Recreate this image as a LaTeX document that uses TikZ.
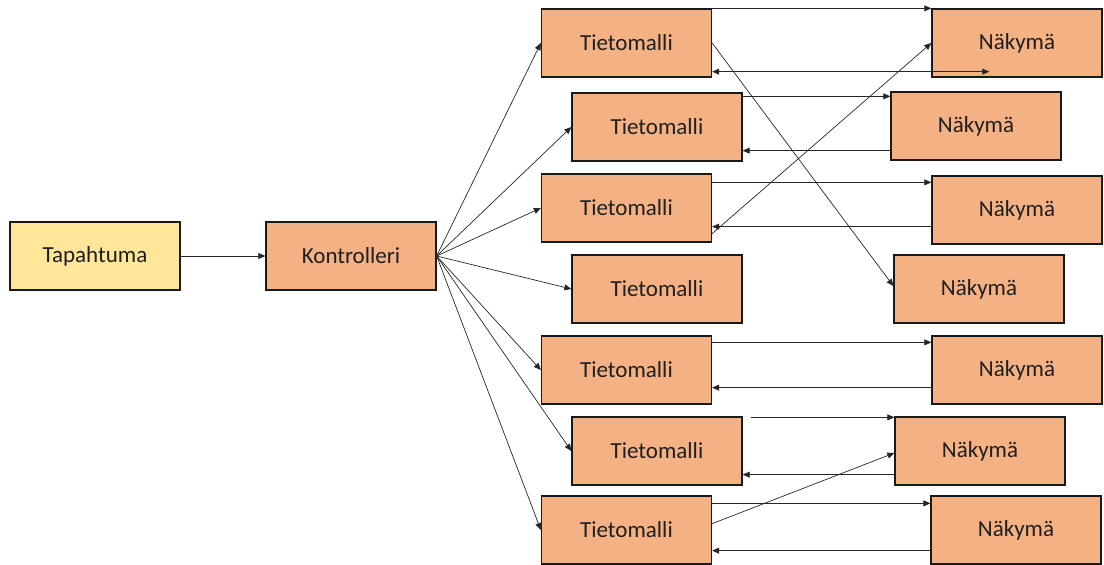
\documentclass[tikz,border=0pt]{standalone}
\usepackage{fontspec}
\setmainfont{Carlito}
\definecolor{kaaviKelta}{HTML}{FFE699}
\definecolor{kaaviOranssi}{HTML}{F4B183}
\usetikzlibrary{
	arrows.meta,
	calc
}
\tikzset{
	laatikko/.style={
		draw=black!90,
		line width=1.3pt,
		fill=kaaviOranssi,
		minimum width=170pt,
		minimum height=68pt,
		inner sep=0pt,
		align=center,
		text=black!88,
		font=\fontsize{23}{26}\selectfont
	},
	tapahtuma/.style={
		laatikko,
		fill=kaaviKelta
	},
	nuoli/.style={
		-{Triangle[length=7pt,width=6pt]},
		line width=0.7pt,
		black!85
	}
}
\begin{document}
\begin{tikzpicture}[x=1pt,y=-1pt]
		\useasboundingbox (0,0) rectangle (1104,565);
		\node[tapahtuma] (tap) at (95,256) {Tapahtuma};
		\node[laatikko] (kon) at (351,256) {Kontrolleri};
		\foreach \i/\x/\y in {1/626.5/43,2/657/127,3/626.5/208,4/657/289,5/626.5/370,6/657/451,7/626.5/530}{
			\node[laatikko] (tm\i) at (\x,\y) {Tietomalli};
		}
		\foreach \i/\x/\y in {1/1017/43,2/976/126,3/1017/210,4/979/289,5/1017/370,6/980/451,7/1016/530}{
			\node[laatikko] (nk\i) at (\x,\y) {Näkymä};
		}
		\draw[nuoli] (tap) -- (kon);
		\foreach \i in {1,...,7}{
			\draw[nuoli] (kon.east) -- (tm\i.west);
		}
		% tietomallit ja näkymät
		\draw[nuoli] (tm1.north east) -- (nk1.north west);
		\draw[nuoli] ($(nk1.south west)+(0,-6)$) -- ($(tm1.south east)+(0,-6)$);
		\draw[nuoli] ($(tm1.south east)+(62,-6)$) -- ($(nk1.south west)+(58,-6)$);
		\draw[nuoli] (tm1.east) -- ($(nk4.west)+(0,-3)$);
		\draw[nuoli] ($(tm3.south east)+(0,-9)$) -- (nk1.west);
		\draw[nuoli] ($(tm2.north east)+(0,4)$) -- ($(nk2.north west)+(0,5)$);
		\draw[nuoli] ($(nk2.south west)+(0,-10)$) -- ($(tm2.south east)+(0,-11)$);
		\draw[nuoli] ($(tm3.north east)+(0,9)$) -- ($(nk3.north west)+(0,7)$);
		\draw[nuoli] ($(nk3.south west)+(0,-18)$) -- ($(tm3.south east)+(0,-16)$);
		\draw[nuoli] ($(tm5.north east)+(0,7)$) -- ($(nk5.north west)+(0,7)$);
		\draw[nuoli] ($(nk5.south west)+(0,-17)$) -- ($(tm5.south east)+(0,-17)$);
		\draw[nuoli] ($(tm6.north east)+(8,1)$) -- ($(nk6.north west)+(0,1)$);
		\draw[nuoli] ($(nk6.south west)+(0,-11)$) -- ($(tm6.south east)+(0,-11)$);
		\draw[nuoli] ($(tm7.south east)+(0,-41)$) -- ($(nk6.west)+(0,2)$);
		\draw[nuoli] ($(tm7.north east)+(0,8)$) -- ($(nk7.north west)+(0,8)$);
		\draw[nuoli] ($(nk7.south west)+(0,-14)$) -- ($(tm7.south east)+(0,-14)$);
	\end{tikzpicture}
\end{document}
